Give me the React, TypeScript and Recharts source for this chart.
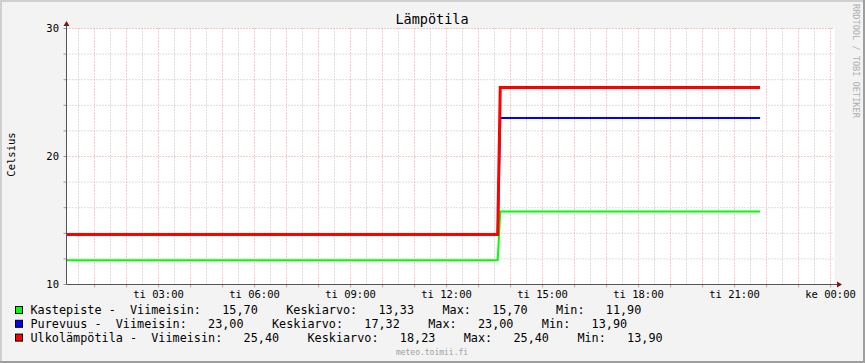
import { LineChart, Line, XAxis, YAxis, CartesianGrid, ReferenceLine, Legend } from 'recharts';

// RRDtool style temperature graph

const FONT = '"DejaVu Sans Mono", monospace';

// sample times (hours from midnight, tuesday)
const sampleHours = [0.1, 13.6, 13.68, 21.8];
const kastepiste = [11.9, 11.9, 15.7, 15.7];
const purevuus = [13.9, 13.9, 23.0, 23.0];
const ulkolampotila = [13.9, 13.9, 25.4, 25.4];

const seriesKeys = ['kastepiste', 'purevuus', 'ulkolampotila'];
const seriesNames = ['Kastepiste', 'Purevuus', 'Ulkolämpötila'];
const seriesColors = ['#00ff00', '#0000ff', '#ff0000'];
const seriesWidths = [2, 2, 3];

// legend stats
const lastValues = [15.7, 23.0, 25.4];
const avgValues = [13.33, 17.32, 18.23];
const maxValues = [15.7, 23.0, 25.4];
const minValues = [11.9, 13.9, 13.9];

const xTickHours = [3, 6, 9, 12, 15, 18, 21, 24];
const xTickLabels = ['ti 03:00', 'ti 06:00', 'ti 09:00', 'ti 12:00', 'ti 15:00', 'ti 18:00', 'ti 21:00', 'ke 00:00'];
const yTicks = [10, 12, 14, 16, 18, 20, 22, 24, 26, 28, 30];
const yTickLabels = [10, 20, 30];

const data = sampleHours.map((t, i) => ({
  t,
  kastepiste: kastepiste[i],
  purevuus: purevuus[i],
  ulkolampotila: ulkolampotila[i],
}));

// grid positions
const hourLines = Array.from({ length: 24 }, (_, i) => i + 1);
const halfHourLines = hourLines.map((h) => h - 0.5);
const minorY = yTicks.filter((v) => !yTickLabels.includes(v));
const majorY = [20, 30];

const fmt = (v: number) => v.toFixed(2).replace('.', ',');

const legendRows = seriesNames.map(
  (name, i) =>
    `${name} -  Viimeisin:   ${fmt(lastValues[i])}    Keskiarvo:   ${fmt(avgValues[i])}    Max:   ${fmt(maxValues[i])}    Min:   ${fmt(minValues[i])}`
);

const renderXDecor = (props: any) => {
  const { x, y, width } = props.viewBox;
  const end = x + width;
  return (
    <g>
      <line x1={x} y1={y} x2={end + 3} y2={y} stroke="#555" strokeWidth={1} />
      <polygon points={`${end + 2.5},${y - 3} ${end + 7.5},${y} ${end + 2.5},${y + 3}`} fill="#7f1414" />
    </g>
  );
};

const renderYDecor = (props: any) => {
  const { x, y, width, height } = props.viewBox;
  const ax = x + width;
  const cy = y + height / 2 - 2;
  return (
    <g>
      <line x1={ax} y1={y + height} x2={ax} y2={y - 3} stroke="#555" strokeWidth={1} />
      <polygon points={`${ax - 3},${y - 2.5} ${ax},${y - 7.5} ${ax + 3},${y - 2.5}`} fill="#7f1414" />
      <text
        x={x + 8.5}
        y={cy}
        transform={`rotate(-90, ${x + 8.5}, ${cy})`}
        textAnchor="middle"
        fontFamily={FONT}
        fontSize={10.5}
        fill="#000"
      >
        Celsius
      </text>
    </g>
  );
};

const LegendRows = () => (
  <svg width={865} height={60} style={{ display: 'block' }}>
    {legendRows.map((row, i) => (
      <g key={seriesKeys[i]}>
        <rect x={15.5} y={10.5 + i * 13.8} width={7} height={7} fill={seriesColors[i]} stroke="#000" />
        <text
          x={30.5}
          y={18 + i * 13.8}
          fontFamily={FONT}
          fontSize={11.8}
          fill="#000"
          style={{ whiteSpace: 'pre' }}
        >
          {row}
        </text>
      </g>
    ))}
  </svg>
);

export default function App() {
  return (
    <div style={{ position: 'absolute', left: 0, top: 0, width: 865, height: 363, background: '#f3f3f3' }}>
      {/* frame + free texts */}
      <svg width={865} height={363} style={{ position: 'absolute', left: 0, top: 0 }}>
        <rect x={0} y={0} width={865} height={2} fill="#cfcfcf" />
        <rect x={0} y={0} width={2} height={363} fill="#cfcfcf" />
        <rect x={0} y={361} width={865} height={2} fill="#9e9e9e" />
        <rect x={863} y={0} width={2} height={363} fill="#9e9e9e" />
        <text x={432} y={24} textAnchor="middle" fontFamily={FONT} fontSize={13.5} fill="#000">
          Lämpötila
        </text>
        <text transform="translate(852.5,4) rotate(90)" fontFamily={FONT} fontSize={8.6} fill="#b0b0b0">
          RRDTOOL / TOBI OETIKER
        </text>
        <text x={432} y={355} textAnchor="middle" fontFamily={FONT} fontSize={8} fill="#a0a0a0">
          meteo.toimii.fi
        </text>
      </svg>

      <div style={{ position: 'absolute', left: 0, top: 0 }}>
        <LineChart width={865} height={363} data={data} margin={{ top: 28.5, right: 30.5, left: 6.5, bottom: 48.5 }}>
          <CartesianGrid fill="#ffffff" horizontal={false} vertical={false} />

          {halfHourLines.map((h) => (
            <ReferenceLine key={`mx${h}`} x={h} stroke="#bcbcbc" strokeDasharray="1 2" />
          ))}
          {minorY.map((v) => (
            <ReferenceLine key={`my${v}`} y={v} stroke="#bcbcbc" strokeDasharray="1 2" />
          ))}
          {hourLines.map((h) => (
            <ReferenceLine key={`Mx${h}`} x={h} stroke="#f29494" strokeDasharray="1 2" />
          ))}
          {majorY.map((v) => (
            <ReferenceLine key={`My${v}`} y={v} stroke="#f29494" strokeDasharray="1 2" />
          ))}

          <XAxis
            dataKey="t"
            type="number"
            domain={[0.125, 24.125]}
            allowDataOverflow
            ticks={hourLines}
            interval={0}
            tickFormatter={(v) => {
              const idx = xTickHours.indexOf(v);
              return idx >= 0 ? xTickLabels[idx] : '';
            }}
            tick={{ fill: '#000', fontSize: 10.5, fontFamily: FONT }}
            tickLine={{ stroke: '#f29494' }}
            tickSize={3}
            tickMargin={3}
            axisLine={false}
            height={30}
            label={renderXDecor}
          />
          <YAxis
            type="number"
            domain={[10, 30]}
            ticks={yTicks}
            interval={0}
            tickFormatter={(v) => (yTickLabels.includes(v) ? String(v) : '')}
            tick={{ fill: '#000', fontSize: 10.5, fontFamily: FONT }}
            tickLine={{ stroke: '#999' }}
            tickSize={3}
            tickMargin={4.5}
            axisLine={false}
            width={60}
            label={renderYDecor}
          />

          {seriesKeys.map((k, i) => (
            <Line
              key={k}
              type="linear"
              dataKey={k}
              name={seriesNames[i]}
              stroke={seriesColors[i]}
              strokeWidth={seriesWidths[i]}
              dot={false}
              activeDot={false}
              isAnimationActive={false}
            />
          ))}

          <Legend
            layout="horizontal"
            verticalAlign="middle"
            align="center"
            content={LegendRows}
            wrapperStyle={{ left: 0, top: 296, width: 865, height: 60 }}
          />
        </LineChart>
      </div>
    </div>
  );
}
